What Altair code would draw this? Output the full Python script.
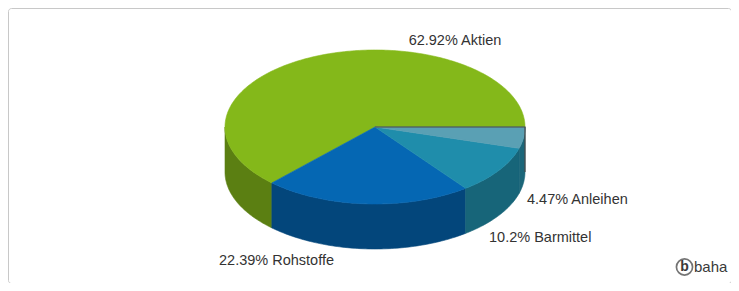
import math
import altair as alt
import pandas as pd

# ---- data ----
labels = ["Aktien", "Rohstoffe", "Barmittel", "Anleihen"]
values = [62.92, 22.39, 10.2, 4.47]
label_text = ["62.92% Aktien", "22.39% Rohstoffe", "10.2% Barmittel", "4.47% Anleihen"]

# ---- styles / layout ----
top_colors = ["#84b81a", "#0567b3", "#1f8dab", "#5aa0b4"]
side_colors = ["#5b7f12", "#03467b", "#176579", "#1b6679"]
W, H = 723, 275
CX, CY = 367, 119
RX, RY = 150, 77
DEPTH = 45
label_pos = [(447, 33, "center"), (211, 253, "left"), (481, 230, "left"), (519, 192, "left")]


def pt(deg, dy=0.0):
    r = math.radians(deg)
    return CX + RX * math.cos(r), CY - RY * math.sin(r) + dy


total = sum(values)
tops, sides = [], []
start = 0.0
for i, (lab, v) in enumerate(zip(labels, values)):
    end = start + 360.0 * v / total
    # top face polygon
    pts = [(CX, CY)]
    n = max(2, int((end - start) / 1.0) + 1)
    for k in range(n + 1):
        pts.append(pt(start + (end - start) * k / n))
    pts.append((CX, CY))
    for j, (x, y) in enumerate(pts):
        tops.append({"id": lab, "o": j, "x": x, "y": y, "c": top_colors[i]})
    # side wall (only front half 180..360 visible)
    a, b = max(start, 180.0), min(end, 360.0)
    if b > a:
        n = max(2, int((b - a) / 1.0) + 1)
        upper = [pt(a + (b - a) * k / n) for k in range(n + 1)]
        lower = [pt(a + (b - a) * k / n, DEPTH) for k in range(n, -1, -1)]
        poly = upper + lower + [upper[0]]
        for j, (x, y) in enumerate(poly):
            sides.append({"id": lab, "o": j, "x": x, "y": y, "c": side_colors[i]})
    start = end

tops_df = pd.DataFrame(tops)
sides_df = pd.DataFrame(sides)

ex, ey = pt(0)
edge_df = pd.DataFrame([
    {"o": 0, "x": CX, "y": CY},
    {"o": 1, "x": ex, "y": ey},
    {"o": 2, "x": ex, "y": ey + DEPTH},
])

lab_df = pd.DataFrame([
    {"t": t, "x": p[0], "y": p[1], "a": p[2]} for t, p in zip(label_text, label_pos)
])

xs = alt.Scale(domain=[0, W], range=[0, W], nice=False, zero=False)
ys = alt.Scale(domain=[0, H], reverse=True, nice=False, zero=False)
X = alt.X("x:Q", scale=xs, axis=None)
Y = alt.Y("y:Q", scale=ys, axis=None)


def poly_layer(df):
    return alt.Chart(df).mark_line(strokeWidth=0.6, interpolate="linear").encode(
        x=X, y=Y, order="o:Q", detail="id:N",
        fill=alt.Fill("c:N", scale=None),
        color=alt.Color("c:N", scale=None),
    )


side_layer = poly_layer(sides_df)
top_layer = poly_layer(tops_df)

edge_layer = alt.Chart(edge_df).mark_line(color="#4a4a4a", strokeWidth=1.2).encode(
    x=X, y=Y, order="o:Q"
)

text_left = alt.Chart(lab_df[lab_df.a == "left"]).mark_text(
    align="left", baseline="middle", font="Liberation Sans", fontSize=14.5, color="#333333"
).encode(x=X, y=Y, text="t:N")
text_center = alt.Chart(lab_df[lab_df.a == "center"]).mark_text(
    align="center", baseline="middle", font="Liberation Sans", fontSize=14.5, color="#333333"
).encode(x=X, y=Y, text="t:N")

logo_df = pd.DataFrame([{"x": 676.5, "y": 259}])
logo_circle = alt.Chart(logo_df).mark_point(
    shape="circle", size=260, filled=False, color="#3a3a3a", strokeWidth=1.7
).encode(x=X, y=Y)
logo_b = alt.Chart(logo_df).mark_text(
    text="b", font="Liberation Sans", fontWeight="bold", fontSize=14, color="#3a3a3a",
    baseline="middle", dy=-0.5
).encode(x=X, y=Y)
logo_txt = alt.Chart(logo_df).mark_text(
    text="baha", font="Liberation Sans", fontSize=15, color="#3a3a3a",
    align="left", baseline="middle", dx=9.5, dy=-0.5
).encode(x=X, y=Y)

chart = alt.layer(
    side_layer, top_layer, edge_layer, text_left, text_center, logo_circle, logo_b, logo_txt
).properties(
    width=W, height=H, padding=0,
    autosize=alt.AutoSizeParams(type="fit", contains="padding"),
    background="white",
).configure_view(stroke="#c8c8c8", strokeWidth=1, cornerRadius=3)

chart.save("out.html", embed_options={"renderer": "svg", "actions": False})
